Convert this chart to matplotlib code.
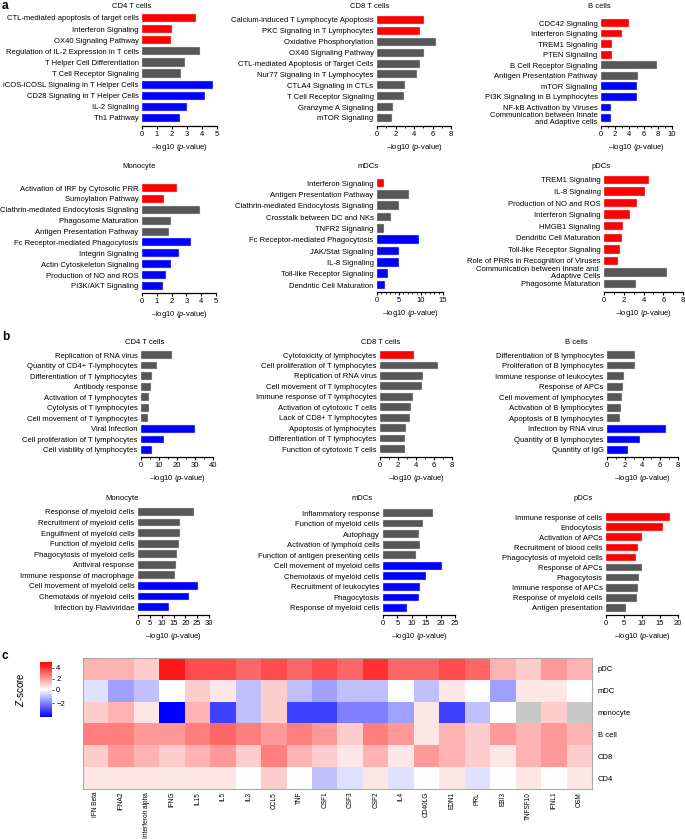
import numpy as np
import matplotlib
matplotlib.use('Agg')
import matplotlib.pyplot as plt
from matplotlib.colors import TwoSlopeNorm
from matplotlib.ticker import MultipleLocator

# ---- panel a: canonical pathways ----
a_cd4_lab = ['CTL-mediated apoptosis of target cells', 'Interferon Signaling', 'OX40 Signaling Pathway',
             'Regulation of IL-2 Expression in T cells', 'T Helper Cell Differentiation', 'T Cell Receptor Signaling',
             'iCOS-iCOSL Signaling in T Helper Cells', 'CD28 Signaling in T Helper Cells', 'IL-2 Signaling', 'Th1 Pathway']
a_cd4_val = [3.6, 2.0, 1.9, 3.85, 2.85, 2.6, 4.75, 4.2, 3.0, 2.5]
a_cd4_grp = [3, 3, 4]

a_cd8_lab = ['Calcium-induced T Lymphocyte Apoptosis', 'PKC Signaling in T Lymphocytes', 'Oxidative Phosphorylation',
             'OX40 Signaling Pathway', 'CTL-mediated Apoptosis of Target Cells', 'Nur77 Signaling in T Lymphocytes',
             'CTLA4 Signaling in CTLs', 'T Cell Receptor Signaling', 'Granzyme A Signaling', 'mTOR Signaling']
a_cd8_val = [5.05, 4.7, 6.4, 5.1, 4.6, 4.3, 3.05, 2.9, 1.7, 1.6]
a_cd8_grp = [2, 8, 0]

a_b_lab = ['CDC42 Signaling', 'Interferon Signaling', 'TREM1 Signaling', 'PTEN Signaling', 'B Cell Receptor Signaling',
           'Antigen Presentation Pathway', 'mTOR Signaling', 'PI3K Signaling in B Lymphocytes',
           'NF-kB Activation by Viruses', 'Communication between Innate\nand Adaptive cells']
a_b_val = [4.0, 2.95, 1.6, 1.6, 7.85, 5.25, 5.1, 5.05, 1.35, 1.35]
a_b_grp = [4, 2, 4]

a_mono_lab = ['Activation of IRF by Cytosolic PRR', 'Sumoylation Pathway', 'Clathrin-mediated Endocytosis Signaling',
              'Phagosome Maturation', 'Antigen Presentation Pathway', 'Fc Receptor-mediated Phagocytosis',
              'Integrin Signaling', 'Actin Cytoskeleton Signaling', 'Production of NO and ROS', 'PI3K/AKT Signaling']
a_mono_val = [2.35, 1.5, 3.9, 1.95, 1.85, 3.3, 2.5, 1.95, 1.65, 1.45]
a_mono_grp = [2, 3, 5]

a_mdc_lab = ['Interferon Signaling', 'Antigen Presentation Pathway', 'Clathrin-mediated Endocytosis Signaling',
             'Crosstalk between DC and NKs', 'TNFR2 Signaling', 'Fc Receptor-mediated Phagocytosis',
             'JAK/Stat Signaling', 'IL-8 Signaling', 'Toll-like Receptor Signaling', 'Dendritic Cell Maturation']
a_mdc_val = [1.5, 7.2, 4.9, 3.2, 1.5, 9.5, 5.1, 5.05, 2.4, 1.9]
a_mdc_grp = [1, 4, 5]

a_pdc_lab = ['TREM1 Signaling', 'IL-8 Signaling', 'Production of NO and ROS', 'Interferon Signaling',
             'HMGB1 Signaling', 'Dendritic Cell Maturation', 'Toll-like Receptor Signaling',
             'Role of PRRs in Recognition of Viruses', 'Communication between Innate and \nAdaptive Cells',
             'Phagosome Maturation']
a_pdc_val = [4.6, 4.15, 3.3, 2.65, 1.9, 1.8, 1.6, 1.45, 6.4, 3.25]
a_pdc_grp = [8, 2, 0]

# ---- panel b: functions ----
b_cd4_lab = ['Replication of RNA virus', 'Quantity of CD4+ T-lymphocytes', 'Differentiation of T lymphocytes',
             'Antibody response', 'Activation of T lymphocytes', 'Cytolysis of T lymphocytes',
             'Cell movement of T lymphocytes', 'Viral Infection', 'Cell proliferation of T lymphocytes',
             'Cell viability of lymphocytes']
b_cd4_val = [17.2, 8.9, 6.3, 5.7, 4.6, 4.3, 4.1, 30.0, 12.6, 5.9]
b_cd4_grp = [0, 7, 3]

b_cd8_lab = ['Cytotoxicity of lymphocytes', 'Cell proliferation of T lymphocytes', 'Replication of RNA virus',
             'Cell movement of T lymphocytes', 'Immune response of T lymphocytes', 'Activation of cytotoxic T cells',
             'Lack of CD8+ T lymphocytes', 'Apoptosis of lymphocytes', 'Differentiation of T lymphocytes',
             'Function of cytotoxic T cells']
b_cd8_val = [3.8, 6.45, 4.8, 4.65, 3.65, 3.45, 3.35, 2.9, 2.8, 2.8]
b_cd8_grp = [1, 9, 0]

b_b_lab = ['Differentiation of B lymphocytes', 'Proliferation of B lymphocytes', 'Immune response of leukocytes',
           'Response of APCs', 'Cell movement of lymphocytes', 'Activation of B lymphocytes',
           'Apoptosis of B lymphocytes', 'Infection by RNA virus', 'Quantity of B lymphocytes', 'Quantity of IgG']
b_b_val = [3.1, 3.1, 1.95, 1.8, 1.65, 1.55, 1.45, 6.7, 3.75, 2.4]
b_b_grp = [0, 7, 3]

b_mono_lab = ['Response of myeloid cells', 'Recruitment of myeloid cells', 'Engulfment of myeloid cells',
              'Function of myeloid cells', 'Phagocytosis of myeloid cells', 'Antiviral response',
              'Immune response of macrophage', 'Cell movement of myeloid cells', 'Chemotaxis of myeloid cells',
              'Infection by Flaviviridae']
b_mono_val = [23.7, 17.7, 17.6, 17.2, 16.5, 16.1, 15.8, 25.5, 21.5, 13.2]
b_mono_grp = [0, 7, 3]

b_mdc_lab = ['Inflammatory response', 'Function of myeloid cells', 'Autophagy', 'Activation of lymphoid cells',
             'Function of antigen presenting cells', 'Cell movement of myeloid cells', 'Chemotaxis of myeloid cells',
             'Recruitment of leukocytes', 'Phagocytosis', 'Response of myeloid cells']
b_mdc_val = [17.4, 13.9, 12.6, 12.9, 11.4, 20.5, 15.1, 12.9, 12.6, 8.3]
b_mdc_grp = [0, 5, 5]

b_pdc_lab = ['Immune response of cells', 'Endocytosis', 'Activation of APCs', 'Recruitment of blood cells',
             'Phagocytosis of myeloid cells', 'Response of APCs', 'Phagocytosis', 'Immune response of APCs',
             'Response of myeloid cells', 'Antigen presentation']
b_pdc_val = [17.9, 15.9, 9.9, 8.8, 8.2, 9.9, 9.3, 8.8, 8.6, 5.5]
b_pdc_grp = [5, 5, 0]

# ---- panel c: cytokine z-scores ----
hm_cols = ['IFN Beta', 'IFNA2', 'Interferon alpha', 'IFNG', 'IL15', 'IL5', 'IL3', 'CCL5', 'TNF', 'CSF1',
           'CSF3', 'CSF2', 'IL4', 'CD40LG', 'EDN1', 'PRL', 'EBI3', 'TNFSF10', 'IFNL1', 'OSM']
hm_rows = ['pDC', 'mDC', 'monocyte', 'B cell', 'CD8', 'CD4']
z_pdc = [1.5, 1.5, 1.0, 4.5, 3.5, 3.5, 3.0, 3.5, 3.0, 3.5, 3.0, 4.0, 3.0, 3.0, 3.5, 3.0, 1.5, 1.0, 2.0, 1.5]
z_mdc = [-0.5, -1.5, -1.0, 0.0, 1.0, 0.5, -1.0, 1.0, -1.0, -1.5, -1.0, -1.0, 0.0, -1.0, 0.5, 0.0, -1.5, 0.5, 0.5, 0.0]
z_mono = [1.0, 1.5, 0.5, -4.0, 1.5, -3.0, -1.0, 1.0, -3.0, -3.0, -2.0, -2.0, -1.5, 0.5, -3.0, -1.0, 0.0,
          np.nan, 1.0, np.nan]
z_bcell = [2.5, 2.5, 2.0, 2.0, 2.5, 3.0, 2.5, 2.0, 2.5, 2.0, 1.0, 2.5, 2.0, 0.5, 1.5, 1.0, 2.0, 1.5, 2.0, 1.5]
z_cd8 = [1.0, 2.0, 1.5, 1.0, 1.5, 2.0, 1.0, 2.5, 1.5, 1.0, 0.5, 1.5, 0.5, 2.0, 1.5, 1.0, 0.5, 1.5, 2.0, 1.0]
z_cd4 = [0.5, 0.5, 0.5, 0.5, 0.5, 0.5, 0.0, 1.0, 0.0, -1.0, -0.5, 0.5, -0.5, 0.0, 0.5, -0.5, 0.0, 0.5, 0.0, 0.5]

W, H = 685, 839
RED, GREY, BLUE = '#ff0000', '#575757', '#0000ff'
FS = 5.5

plt.rcParams['font.family'] = ['Liberation Sans', 'DejaVu Sans']
plt.rcParams['mathtext.fontset'] = 'custom'
plt.rcParams['mathtext.it'] = 'Liberation Sans:italic'
plt.rcParams['mathtext.rm'] = 'Liberation Sans'
plt.rcParams['font.size'] = FS

fig = plt.figure(figsize=(W / 100, H / 100), dpi=100)


def add_ax(x0, x1, ytop, ybot):
    return fig.add_axes([x0 / W, 1 - ybot / H, (x1 - x0) / W, (ybot - ytop) / H])


def barpanel(x0, x1, first, last, spine, labels, vals, grp, xmax, step, minor=None):
    n = len(vals)
    sp = (last - first) / (n - 1)
    ax = add_ax(x0, x1, first - sp / 2, spine)
    colors = [RED] * grp[0] + [GREY] * grp[1] + [BLUE] * grp[2]
    y = np.arange(n)
    ax.barh(y, vals, height=0.74, color=colors, edgecolor='#dddddd', linewidth=0.3)
    ax.set_ylim((spine - first) / sp, -0.5)
    ax.set_xlim(0, xmax)
    ax.set_yticks(y)
    ax.set_yticklabels(labels, fontsize=FS, linespacing=0.95)
    ax.xaxis.set_major_locator(MultipleLocator(step))
    if minor:
        ax.xaxis.set_minor_locator(MultipleLocator(minor))
    for s in ['top', 'right', 'left']:
        ax.spines[s].set_visible(False)
    ax.spines['bottom'].set_linewidth(0.9)
    ax.tick_params(axis='y', length=0, pad=2.5)
    ax.tick_params(axis='x', which='major', length=2.2, width=0.8, pad=1.5, labelsize=FS)
    ax.tick_params(axis='x', which='minor', length=1.4, width=0.6)
    ax.set_xlabel('\u2013log10 ($\\it{p}$-value)', fontsize=FS, labelpad=2.5)
    ax.patch.set_alpha(0)
    return ax


# panel a
barpanel(142, 217, 18, 118, 126, a_cd4_lab, a_cd4_val, a_cd4_grp, 5, 1)
barpanel(377, 451, 20, 118, 126, a_cd8_lab, a_cd8_val, a_cd8_grp, 8, 2, 1)
barpanel(601, 672, 23, 118, 126, a_b_lab, a_b_val, a_b_grp, 10, 2, 1)
barpanel(142, 216, 188, 286, 293, a_mono_lab, a_mono_val, a_mono_grp, 5, 1)
barpanel(377, 443, 183, 285, 292, a_mdc_lab, a_mdc_val, a_mdc_grp, 15, 5, 1)
barpanel(604, 683, 180, 284, 292, a_pdc_lab, a_pdc_val, a_pdc_grp, 8, 2, 1)

# panel b
barpanel(141, 213, 355, 450, 457, b_cd4_lab, b_cd4_val, b_cd4_grp, 40, 10, 5)
barpanel(380, 452, 355, 449, 457, b_cd8_lab, b_cd8_val, b_cd8_grp, 8, 2, 1)
barpanel(607, 678, 355, 450, 457, b_b_lab, b_b_val, b_b_grp, 8, 2, 1)
barpanel(138, 209, 512, 607, 615, b_mono_lab, b_mono_val, b_mono_grp, 30, 5)
barpanel(383, 455, 513, 608, 615, b_mdc_lab, b_mdc_val, b_mdc_grp, 25, 5)
barpanel(606, 678, 517, 608, 615, b_pdc_lab, b_pdc_val, b_pdc_grp, 20, 5)

titles = [('CD4 T cells', 132, 7), ('CD8 T cells', 370, 7), ('B cells', 599, 7),
          ('Monocyte', 139, 166), ('mDCs', 368, 166), ('pDCs', 601, 166),
          ('CD4 T cells', 145, 343), ('CD8 T cells', 381, 343), ('B cells', 576, 343),
          ('Monocyte', 122, 499), ('mDCs', 362, 499), ('pDCs', 583, 499)]
for t, x, yy in titles:
    fig.text(x / W, 1 - yy / H, t, ha='center', va='center', fontsize=FS)

for t, x, yy in [('a', 2, 6), ('b', 2, 337), ('c', 2, 656)]:
    fig.text(x / W, 1 - yy / H, t, ha='left', va='center', fontsize=8.5, fontweight='bold')

# panel c heatmap
Z = np.array([z_pdc, z_mdc, z_mono, z_bcell, z_cd8, z_cd4])
cmap = plt.get_cmap('bwr').copy()
cmap.set_bad('#c8c8c8')
norm = TwoSlopeNorm(vcenter=0, vmin=-4, vmax=5)
hax = add_ax(83, 592, 658, 789)
im = hax.imshow(np.ma.masked_invalid(Z), aspect='auto', cmap=cmap, norm=norm, interpolation='nearest')
hax.set_xticks(np.arange(len(hm_cols)))
hax.set_xticklabels(hm_cols, rotation=90, fontsize=4.7)
hax.set_yticks(np.arange(len(hm_rows)))
hax.set_yticklabels(hm_rows, fontsize=FS)
hax.yaxis.tick_right()
hax.tick_params(axis='y', length=0, pad=4)
hax.tick_params(axis='x', length=0, pad=2)
for s in hax.spines.values():
    s.set_edgecolor('#aaaaaa')
    s.set_linewidth(0.8)

cax = add_ax(40, 52, 662, 717)
cb = fig.colorbar(im, cax=cax, ticks=[4, 2, 0, -2])
cb.outline.set_visible(False)
cax.tick_params(labelsize=FS, length=1.5, width=0.5, pad=1.5)
cax.set_yticklabels(['4', '2', '0', '\u22122'])
cax.yaxis.set_label_position('left')
cax.set_ylabel('$\\it{Z}$-score', fontsize=FS + 1.5, labelpad=10)

fig.savefig('out.png', dpi=100)
